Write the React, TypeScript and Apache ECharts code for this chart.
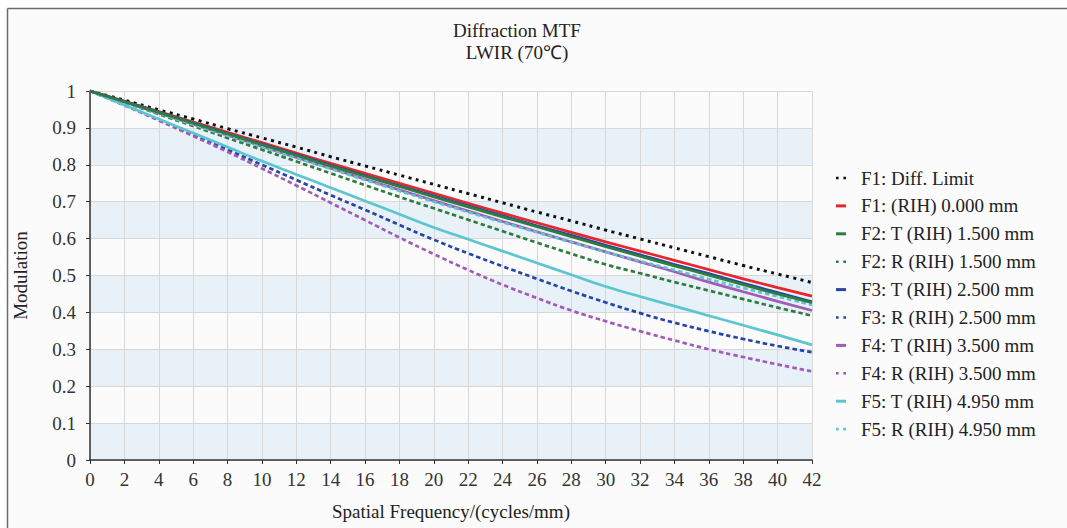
import React, { useEffect, useRef } from "react";
import * as echarts from "echarts";

const freq = [0, 2, 4, 6, 8, 10, 12, 14, 16, 18, 20, 22, 24, 26, 28, 30, 32, 34, 36, 38, 40, 42];
const yTicks = [0, 0.1, 0.2, 0.3, 0.4, 0.5, 0.6, 0.7, 0.8, 0.9, 1];

const diffLimit = [1, 0.975, 0.949, 0.924, 0.898, 0.873, 0.848, 0.822, 0.797, 0.772, 0.747, 0.722, 0.697, 0.672, 0.648, 0.623, 0.599, 0.575, 0.551, 0.527, 0.504, 0.481];
const f1Axis = [1, 0.972, 0.944, 0.916, 0.888, 0.86, 0.832, 0.804, 0.777, 0.75, 0.723, 0.696, 0.669, 0.643, 0.617, 0.591, 0.566, 0.541, 0.516, 0.491, 0.467, 0.444];
const f2T = [1, 0.971, 0.942, 0.913, 0.884, 0.855, 0.826, 0.797, 0.769, 0.741, 0.713, 0.686, 0.659, 0.632, 0.605, 0.578, 0.552, 0.526, 0.501, 0.475, 0.45, 0.426];
const f2R = [1, 0.969, 0.937, 0.905, 0.873, 0.841, 0.809, 0.777, 0.745, 0.713, 0.682, 0.651, 0.62, 0.589, 0.559, 0.53, 0.506, 0.482, 0.459, 0.436, 0.413, 0.391];
const f3T = [1, 0.972, 0.943, 0.914, 0.885, 0.856, 0.828, 0.799, 0.771, 0.743, 0.716, 0.689, 0.662, 0.635, 0.609, 0.582, 0.556, 0.53, 0.505, 0.479, 0.454, 0.429];
const f3R = [1, 0.962, 0.922, 0.882, 0.841, 0.8, 0.759, 0.718, 0.678, 0.637, 0.597, 0.56, 0.525, 0.491, 0.458, 0.427, 0.398, 0.372, 0.349, 0.328, 0.309, 0.292];
const f4T = [1, 0.97, 0.94, 0.91, 0.88, 0.85, 0.82, 0.7905, 0.761, 0.732, 0.703, 0.6745, 0.6465, 0.6185, 0.591, 0.564, 0.537, 0.51, 0.482, 0.456, 0.43, 0.405];
const f4R = [1, 0.961, 0.92, 0.878, 0.835, 0.79, 0.744, 0.697, 0.65, 0.603, 0.558, 0.515, 0.475, 0.439, 0.405, 0.376, 0.349, 0.324, 0.3, 0.279, 0.259, 0.24];
const f5T = [1, 0.962, 0.924, 0.886, 0.848, 0.81, 0.774, 0.738, 0.702, 0.666, 0.63, 0.598, 0.566, 0.534, 0.502, 0.47, 0.443, 0.417, 0.391, 0.365, 0.339, 0.312];
const f5R = [1, 0.97, 0.94, 0.909, 0.879, 0.849, 0.819, 0.789, 0.759, 0.729, 0.7, 0.672, 0.644, 0.617, 0.59, 0.564, 0.539, 0.515, 0.49, 0.466, 0.443, 0.42];

const seriesNames = [
  "F1: Diff. Limit",
  "F1: (RIH) 0.000 mm",
  "F2: T (RIH) 1.500 mm",
  "F2: R (RIH) 1.500 mm",
  "F3: T (RIH) 2.500 mm",
  "F3: R (RIH) 2.500 mm",
  "F4: T (RIH) 3.500 mm",
  "F4: R (RIH) 3.500 mm",
  "F5: T (RIH) 4.950 mm",
  "F5: R (RIH) 4.950 mm",
];
const seriesValues = [diffLimit, f1Axis, f2T, f2R, f3T, f3R, f4T, f4R, f5T, f5R];
const seriesColors = ["#111111", "#e8262b", "#2f7d3c", "#2f7d3c", "#2546a8", "#2546a8", "#a25bb6", "#a25bb6", "#5cc6d0", "#5cc6d0"];
const seriesDashed = [true, false, false, true, false, true, false, true, false, true];
const seriesZ = [2, 4, 5, 3, 4, 3, 3, 3, 3, 3];

const FONT = "Liberation Serif";
const SOLID_ICON = "path://M0,0H10V3H0Z";
const DOT_ICON = "path://M0,0H2.5V2.5H0Z M7,0H9.5V2.5H7Z";

export default function App() {
  const ref = useRef<HTMLDivElement>(null);
  useEffect(() => {
    if (!ref.current) return;
    const chart = echarts.init(ref.current, undefined, { renderer: "svg" });
    const series = seriesNames.map((name, i) => {
      const isDiff = i === 0;
      return {
        name,
        type: "line",
        smooth: true,
        symbol: "none",
        z: seriesZ[i],
        data: freq.map((f, k) => [f, seriesValues[i][k]]),
        lineStyle: {
          color: seriesColors[i],
          width: isDiff ? 3 : 2.7,
          type: seriesDashed[i] ? (isDiff ? [3, 4.5] : [4.5, 3]) : "solid",
          cap: "butt",
        },
        itemStyle: { color: seriesColors[i] },
      };
    });
    chart.setOption({
      animation: false,
      backgroundColor: "#ffffff",
      graphic: [
        {
          type: "rect",
          z: -10,
          silent: true,
          shape: { x: 7, y: 8, width: 1060, height: 520 },
          style: { fill: "#fbfbfb" },
        },
        {
          type: "line",
          z: -9,
          silent: true,
          shape: { x1: 7.5, y1: 8.5, x2: 1067, y2: 8.5 },
          style: { stroke: "#6b6b6b", lineWidth: 1.5 },
        },
        {
          type: "line",
          z: -9,
          silent: true,
          shape: { x1: 7.5, y1: 8.5, x2: 7.5, y2: 528 },
          style: { stroke: "#6b6b6b", lineWidth: 1.5 },
        },
      ],
      title: {
        text: "Diffraction MTF\nLWIR (70℃)",
        left: 512,
        top: 14,
        textAlign: "center",
        textStyle: { fontFamily: FONT, fontSize: 19, fontWeight: "normal", color: "#222", lineHeight: 22 },
      },
      legend: {
        orient: "vertical",
        left: 831,
        top: 163,
        itemGap: 7.9,
        itemWidth: 10,
        itemHeight: 3,
        itemStyle: { borderWidth: 0 },
        textStyle: { fontFamily: FONT, fontSize: 19, color: "#222", lineHeight: 20, padding: [0, 0, 0, 10] },
        data: seriesNames.map((n, i) => ({ name: n, icon: seriesDashed[i] ? DOT_ICON : SOLID_ICON })),
      },
      grid: { left: 90, right: 255, top: 91, bottom: 68, containLabel: false },
      xAxis: {
        type: "value",
        min: 0,
        max: 42,
        interval: 2,
        name: "Spatial Frequency/(cycles/mm)",
        nameLocation: "middle",
        nameGap: 42,
        nameTextStyle: { fontFamily: FONT, fontSize: 19, color: "#222" },
        axisLine: { show: true, lineStyle: { color: "#333", width: 1.5 } },
        axisTick: { show: true, length: 4, lineStyle: { color: "#333" } },
        axisLabel: { fontFamily: FONT, fontSize: 19, color: "#333", margin: 10 },
        splitLine: { show: true, lineStyle: { color: "#d8d8d8", width: 1 } },
      },
      yAxis: {
        type: "value",
        min: 0,
        max: 1,
        interval: 0.1,
        name: "Modulation",
        nameLocation: "middle",
        nameGap: 60,
        nameTextStyle: { fontFamily: FONT, fontSize: 19, color: "#222" },
        axisLine: { show: true, lineStyle: { color: "#333", width: 1.5 } },
        axisTick: { show: true, length: 4, lineStyle: { color: "#333" } },
        axisLabel: {
          fontFamily: FONT,
          fontSize: 19,
          color: "#333",
          margin: 14,
          formatter: (v: number) => {
            const t = yTicks.find((y) => Math.abs(y - v) < 1e-6);
            return t === undefined ? "" : String(t);
          },
        },
        splitLine: { show: true, lineStyle: { color: "#d8d8d8", width: 1 } },
        splitArea: { show: true, areaStyle: { color: ["#e8f0f8", "rgba(0,0,0,0)"] } },
      },
      series,
    });
    return () => chart.dispose();
  }, []);
  return (
    <div
      ref={ref}
      style={{ position: "fixed", left: 0, top: 0, width: 1067, height: 528 }}
    />
  );
}
